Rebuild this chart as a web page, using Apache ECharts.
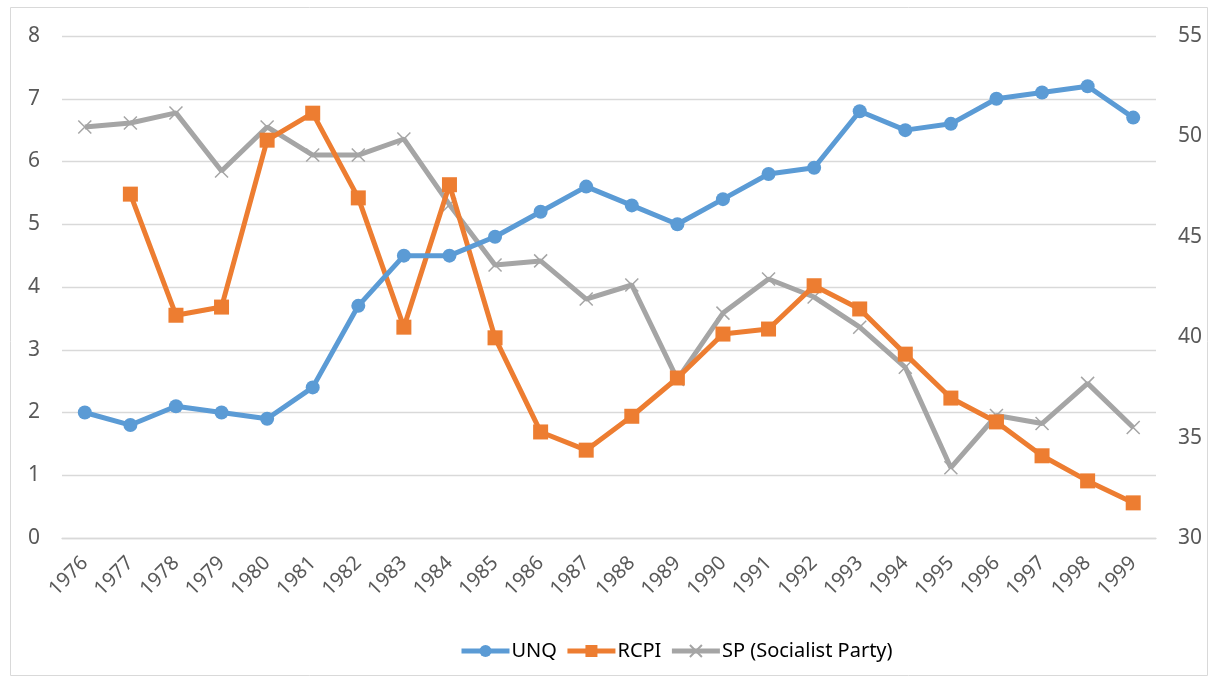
<!DOCTYPE html>
<html>
<head>
<meta charset="utf-8">
<script src="https://cdn.jsdelivr.net/npm/echarts@6/dist/echarts.min.js"></script>
<style>
  html, body { margin: 0; padding: 0; background: #fff; }
  #chart { width: 1218px; height: 683px; }
</style>
</head>
<body>
<div id="chart"></div>
<script>
// 年份
const years = ['1976', '1977', '1978', '1979', '1980', '1981', '1982', '1983', '1984', '1985', '1986', '1987',
  '1988', '1989', '1990', '1991', '1992', '1993', '1994', '1995', '1996', '1997', '1998', '1999']

// 左轴
const unq = [2.0, 1.8, 2.1, 2.0, 1.9, 2.4, 3.7, 4.5, 4.5, 4.8, 5.2, 5.6,
  5.3, 5.0, 5.4, 5.8, 5.9, 6.8, 6.5, 6.6, 7.0, 7.1, 7.2, 6.7]
const rcpi = [null, 5.48, 3.55, 3.68, 6.34, 6.77, 5.42, 3.36, 5.63, 3.19, 1.69, 1.40,
  1.94, 2.55, 3.25, 3.33, 4.02, 3.65, 2.93, 2.23, 1.85, 1.31, 0.91, 0.56]

// 右轴
const sp = [50.47, 50.67, 51.17, 48.28, 50.47, 49.07, 49.07, 49.87, 46.6, 43.6, 43.8, 41.9,
  42.6, 37.9, 41.2, 42.9, 42.0, 40.5, 38.5, 33.5, 36.1, 35.7, 37.7, 35.5]

const FONT = 'Noto Sans'
const LABEL_COLOR = '#595959'
const GRID_COLOR = '#d9d9d9'

const chart = echarts.init(document.getElementById('chart'))

// 叉形标记
const xSymbol = 'path://M0,0L10,10M10,0L0,10'

chart.setOption({
  animation: false,
  textStyle: { fontFamily: FONT },
  graphic: [{
    type: 'rect',
    shape: { x: 10.5, y: 7.5, width: 1197, height: 668 },
    style: { fill: 'none', stroke: '#d9d9d9', lineWidth: 1 },
    silent: true
  }],
  grid: { left: 62, right: 62, top: 36, bottom: 145 },
  legend: {
    left: 454,
    top: 636,
    itemWidth: 48,
    itemHeight: 15,
    itemGap: 8,
    lineStyle: { width: 5 },
    textStyle: { fontFamily: FONT, fontSize: 20, color: '#000', padding: [0, 0, 0, -3] },
    data: ['UNQ', 'RCPI', 'SP (Socialist Party)']
  },
  xAxis: {
    type: 'category',
    data: years,
    boundaryGap: true,
    axisLine: { show: true, lineStyle: { color: GRID_COLOR, width: 1.3 } },
    axisTick: { show: false },
    axisLabel: { rotate: 45, color: LABEL_COLOR, fontSize: 20, margin: 22, interval: 0 }
  },
  yAxis: [{
    type: 'value',
    min: 0, max: 8, interval: 1,
    axisLine: { show: false },
    axisTick: { show: false },
    axisLabel: { color: LABEL_COLOR, fontSize: 21, margin: 22 },
    splitLine: { lineStyle: { color: GRID_COLOR, width: 1.3 } }
  }, {
    type: 'value',
    min: 30, max: 55, interval: 5,
    position: 'right',
    axisLine: { show: false },
    axisTick: { show: false },
    axisLabel: { color: LABEL_COLOR, fontSize: 21, margin: 22 },
    splitLine: { show: false }
  }],
  series: [{
    name: 'UNQ',
    type: 'line',
    data: unq,
    symbol: 'circle',
    symbolSize: 14,
    lineStyle: { color: '#5b9bd5', width: 5 },
    itemStyle: { color: '#5b9bd5' },
    z: 3
  }, {
    name: 'RCPI',
    type: 'line',
    data: rcpi,
    symbol: 'rect',
    symbolSize: 15,
    lineStyle: { color: '#ed7d31', width: 5 },
    itemStyle: { color: '#ed7d31' },
    z: 2
  }, {
    name: 'SP (Socialist Party)',
    type: 'line',
    yAxisIndex: 1,
    data: sp,
    symbol: xSymbol,
    symbolSize: 13,
    lineStyle: { color: '#a5a5a5', width: 5 },
    itemStyle: { color: '#a5a5a5', borderColor: '#a5a5a5', borderWidth: 1.5 },
    z: 1
  }]
})
</script>
</body>
</html>
